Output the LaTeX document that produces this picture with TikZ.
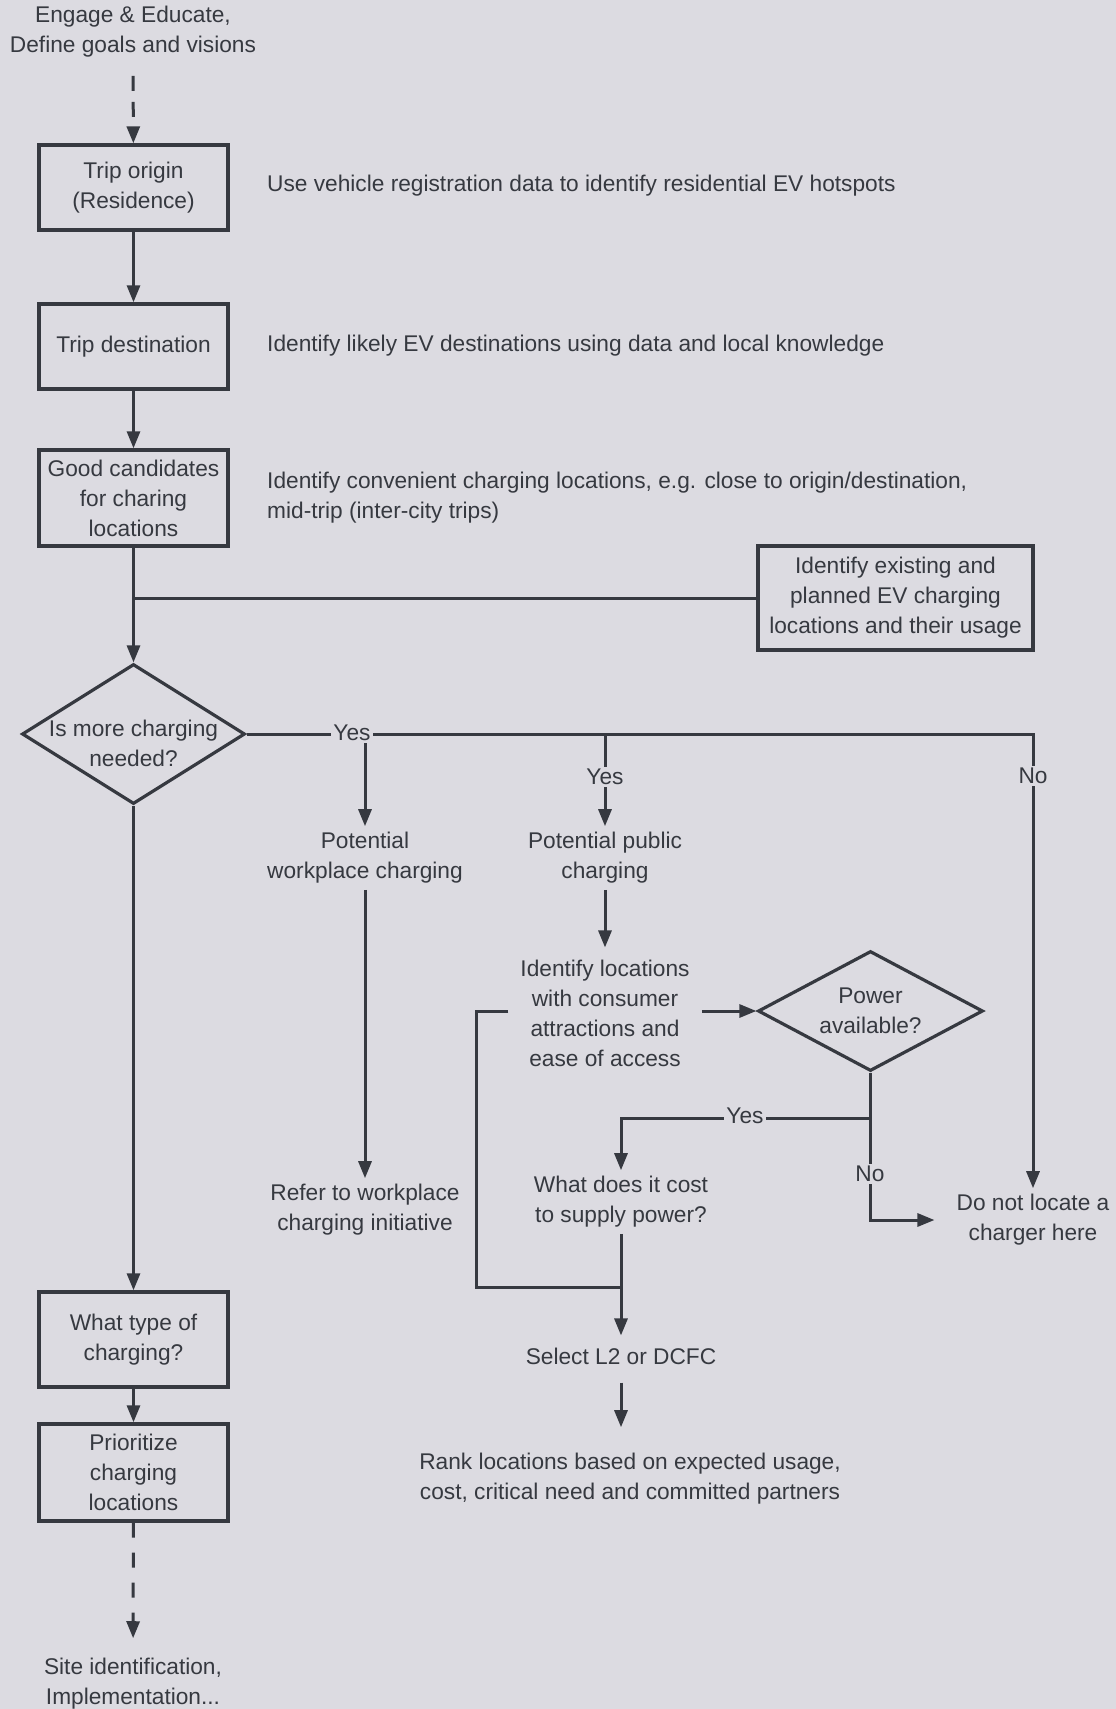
\documentclass[tikz,border=0pt]{standalone}
\usepackage{fontspec}
\setmainfont{Liberation Sans}
\usetikzlibrary{arrows.meta,shapes.geometric}
\definecolor{bg}{HTML}{DCDBE1}
\definecolor{ink}{HTML}{363940}

\begin{document}
\begin{tikzpicture}[x=1pt,y=-1pt,>={Triangle[length=17pt,width=13pt]},
	every node/.style={text=ink,font=\fontsize{22.7}{30}\selectfont},
	txt/.style={align=center,inner sep=6pt},
	box/.style={draw=ink,line width=3.4pt,align=center,minimum width=189,inner sep=4pt},
	dia/.style={draw=ink,line width=3.2pt,diamond,inner sep=0pt},
	lbl/.style={fill=bg,inner sep=2pt},
	link/.style={draw=ink,line width=3pt}]
	\fill[bg] (0,0) rectangle (1116,1709);
	\useasboundingbox (0,0) rectangle (1116,1709);
	% left column
	\node[txt] (engage) at (133,32) {Engage \& Educate,\\Define goals and visions};
	\node[box,minimum height=85] (origin) at (133.5,187.5) {Trip origin\\(Residence)};
	\node[box,minimum height=85] (dest) at (133.5,346.5) {Trip destination};
	\node[box,minimum height=96] (cand) at (133.5,498) {Good candidates\\for charing\\locations};
	\node[dia,minimum width=223,minimum height=140,label={[txt,yshift=-9pt]center:Is more charging\\needed?}] (more) at (133.5,734) {};
	\node[box,minimum height=95] (kind) at (133.5,1339.5) {What type of\\charging?};
	\node[box,minimum height=97] (prio) at (133.5,1472.5) {Prioritize\\charging\\locations};
	\node[txt] (site) at (133,1684) {Site identification,\\Implementation...};
	% notes
	\node[txt,anchor=west,align=left] (note1) at (261,186) {Use vehicle registration data to identify residential EV hotspots};
	\node[txt,anchor=west,align=left] (note2) at (261,346) {Identify likely EV destinations using data and local knowledge};
	\node[txt,anchor=west,align=left] (note3) at (261,498) {Identify convenient charging locations, e.g. close to origin/destination,\\mid-trip (inter-city trips)};
	\node[box,minimum width=275,minimum height=104] (exist) at (895.5,598) {Identify existing and\\planned EV charging\\locations and their usage};
	% branches
	\node[txt] (work) at (365,858) {Potential\\workplace charging};
	\node[txt] (public) at (605,858) {Potential public\\charging};
	\node[txt] (refer) at (365,1210) {Refer to workplace\\charging initiative};
	\node[txt,inner sep=12pt] (spot) at (605,1013) {Identify locations\\with consumer\\attractions and\\ease of access};
	\node[dia,minimum width=225,minimum height=120,label={[txt]center:Power\\available?}] (power) at (870.5,1011) {};
	\node[txt] (cost) at (621,1202) {What does it cost\\to supply power?};
	\node[txt,inner sep=12pt] (select) at (621,1356) {Select L2 or DCFC};
	\node[txt] (rank) at (630,1479) {Rank locations based on expected usage,\\cost, critical need and committed partners};
	\node[txt] (dont) at (1033,1220) {Do not locate a\\charger here};
	\path (more.east -| dont.north) coordinate (yesend)
		(476,1287) coordinate (loopdn)
		(power.south |- 0,1118) coordinate (fork);
	% connectors
	\draw[link,->,dash pattern=on 15pt off 11pt,shorten <=12pt] (engage) -- (origin);
	\foreach \a/\b in {origin/dest,dest/cand,cand/more,more/kind,kind/prio} \draw[link,->] (\a) -- (\b);
	\draw[link] (exist.west) -- (exist.west -| cand.south);
	\draw[link,->,dash pattern=on 15pt off 15pt,shorten >=14pt] (prio) -- (site);
	\draw[link,->] (more.east) -- (yesend) -- (dont);
	\foreach \t in {work,public} \draw[link,->] (more.east -| \t.north) -- (\t);
	\draw[link,->] (work) -- (refer);
	\draw[link,->] (public) -- (spot);
	\draw[link,->] (spot.east |- power.west) -- (power.west);
	\draw[link] (spot.west |- power.west) -| (loopdn) -- (loopdn -| cost.south);
	\draw[link,->] (power.south) -- (fork) -| (cost);
	\draw[link,->,shorten >=16pt] (fork) |- (dont.west);
	\draw[link,->] (cost) -- (select);
	\draw[link,->,shorten <=6pt,shorten >=20pt] (select) -- (select |- rank.north);
	% labels
	\node[lbl] (yes1) at (352,733) {Yes};
	\node[lbl] (yes2) at (605,777) {Yes};
	\node[lbl] (no1) at (1033,776) {No};
	\node[lbl] (yes3) at (745,1116) {Yes};
	\node[lbl] (no2) at (870,1174) {No};
\end{tikzpicture}
\end{document}
